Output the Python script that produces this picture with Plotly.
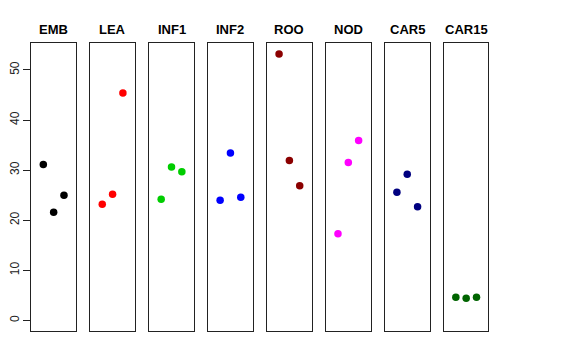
import plotly.graph_objects as go

categories = ["EMB", "LEA", "INF1", "INF2", "ROO", "NOD", "CAR5", "CAR15"]
colors = ["#000000", "#FF0000", "#00CD00", "#0000FF", "#8B0000", "#FF00FF", "#000080", "#006400"]
values = {
    "EMB":   [31.1, 21.6, 25.0],
    "LEA":   [23.2, 25.2, 45.4],
    "INF1":  [24.2, 30.6, 29.7],
    "INF2":  [24.0, 33.4, 24.6],
    "ROO":   [53.2, 31.9, 26.9],
    "NOD":   [17.3, 31.5, 35.9],
    "CAR5":  [25.6, 29.2, 22.7],
    "CAR15": [4.6, 4.4, 4.6],
}
x_positions = [1, 2, 3]
y_ticks = [0, 10, 20, 30, 40, 50]

W, H = 576, 360
OFF = 8  # page body margin offset
fig = go.Figure()
left0, pitch, pw = 26.5 - OFF, 59.45, 45.0
ytop, ybot = 43.3 - OFF, 331.0 - OFF
ydom = [1 - ybot / H, 1 - ytop / H]
ymax = max(max(v) for v in values.values())
ext = 0.04 * ymax
yrange = [0 - ext, ymax + ext]
xrange = [-0.16, 4.16]

for i, cat in enumerate(categories):
    n = i + 1
    xa = "x" if n == 1 else f"x{n}"
    ya = "y" if n == 1 else f"y{n}"
    fig.add_trace(go.Scatter(
        x=x_positions, y=values[cat], mode="markers",
        marker=dict(color=colors[i], size=7.5, line=dict(width=0)),
        xaxis=xa, yaxis=ya, showlegend=False, hoverinfo="skip"))
    x0 = left0 + i * pitch
    dom = [x0 / W, (x0 + pw) / W]
    xkey = "xaxis" if n == 1 else f"xaxis{n}"
    ykey = "yaxis" if n == 1 else f"yaxis{n}"
    fig.layout[xkey] = dict(domain=dom, range=xrange, showgrid=False, zeroline=False,
                            showticklabels=False, ticks="", showline=True, mirror=True,
                            linecolor="#222222", linewidth=1, anchor=ya, fixedrange=True)
    ycfg = dict(domain=ydom, range=yrange, showgrid=False, zeroline=False,
                showline=True, mirror=True, linecolor="#222222", linewidth=1,
                anchor=xa, fixedrange=True)
    if n == 1:
        ycfg.update(tickmode="array", tickvals=y_ticks, ticktext=[str(t) for t in y_ticks],
                    ticks="outside", ticklen=7, tickcolor="#222222", tickangle=-90,
                    tickfont=dict(family="Liberation Sans, Arial, sans-serif", size=12, color="#222222"))
    else:
        ycfg.update(showticklabels=False, ticks="")
    fig.layout[ykey] = ycfg
    fig.add_annotation(text=f"<b>{cat}</b>", x=(x0 + pw / 2) / W, y=1 - (29.5 - OFF) / H,
                       xref="paper", yref="paper", showarrow=False,
                       xanchor="center", yanchor="middle",
                       font=dict(family="Liberation Sans, Arial, sans-serif", size=13, color="#000000"))

fig.update_layout(width=W, height=H, autosize=False,
                  margin=dict(l=0, r=0, t=0, b=0),
                  paper_bgcolor="white", plot_bgcolor="white")
fig.write_html("out.html")
